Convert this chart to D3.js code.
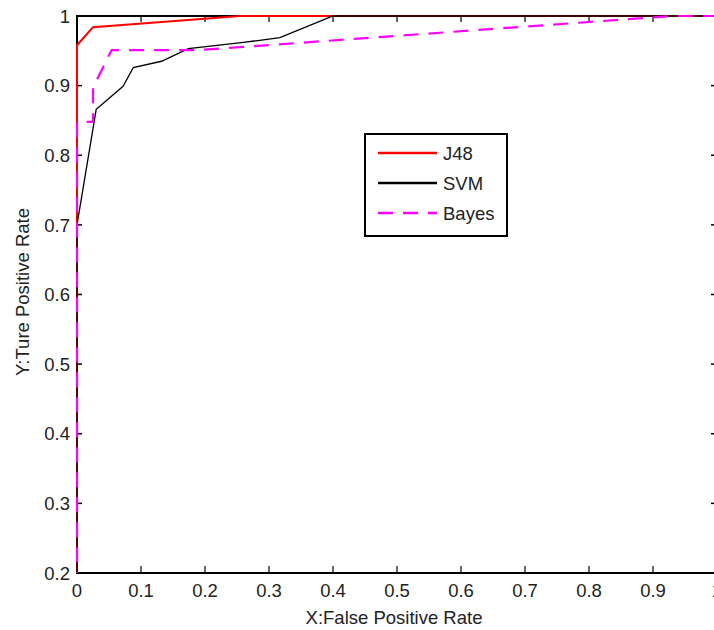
<!DOCTYPE html>
<html>
<head>
<meta charset="utf-8">
<script src="https://cdn.jsdelivr.net/npm/d3@7"></script>
<style>
  body { margin: 0; background: #fff; }
  text { font-family: "Liberation Sans", Arial, sans-serif; fill: #222; }
</style>
</head>
<body>
<div id="chart"></div>
<script>
// ROC curves
const j48 = [[0, 0], [0, 0.958], [0.025, 0.984], [0.255, 1.0], [1, 1]];
const svm = [[0, 0], [0, 0.7], [0.03, 0.866], [0.072, 0.899], [0.088, 0.926],
  [0.132, 0.935], [0.174, 0.953], [0.26, 0.962], [0.317, 0.969], [0.40, 1.0], [1, 1]];
const bayes = [[0, 0], [0, 0.848], [0.025, 0.848], [0.025, 0.897], [0.054, 0.951],
  [0.19, 0.951], [0.93, 1.0], [1, 1]];

const seriesNames = ["J48", "SVM", "Bayes"];
const xTicks = [0, 0.1, 0.2, 0.3, 0.4, 0.5, 0.6, 0.7, 0.8, 0.9, 1];
const yTicks = [0.2, 0.3, 0.4, 0.5, 0.6, 0.7, 0.8, 0.9, 1];

const width = 714, height = 630;
const margin = { left: 77, right: 717, top: 16, bottom: 573 };

const svg = d3.select("#chart").append("svg")
  .attr("width", width)
  .attr("height", height);

const x = d3.scaleLinear().domain([0, 1]).range([margin.left, margin.right]);
const y = d3.scaleLinear().domain([0.2, 1]).range([margin.bottom, margin.top]);

const fmt = d => (d === 0 || d === 1) ? String(d) : d.toFixed(1);

// axes box
const axisG = svg.append("g");
axisG.append("rect")
  .attr("x", margin.left).attr("y", margin.top)
  .attr("width", margin.right - margin.left).attr("height", margin.bottom - margin.top)
  .attr("fill", "none").attr("stroke", "#000").attr("stroke-width", 2);

// ticks (inward, on all four sides)
xTicks.forEach(t => {
  axisG.append("line").attr("x1", x(t)).attr("x2", x(t))
    .attr("y1", margin.bottom).attr("y2", margin.bottom - 7).attr("stroke", "#000").attr("stroke-width", 1.2);
  axisG.append("line").attr("x1", x(t)).attr("x2", x(t))
    .attr("y1", margin.top).attr("y2", margin.top + 6).attr("stroke", "#000").attr("stroke-width", 1.2);
  axisG.append("text")
    .attr("x", x(t)).attr("y", 597)
    .attr("text-anchor", "middle")
    .attr("font-size", "18.5px")
    .text(fmt(t));
});
yTicks.forEach(t => {
  axisG.append("line").attr("x1", margin.left).attr("x2", margin.left + 5)
    .attr("y1", y(t)).attr("y2", y(t)).attr("stroke", "#000").attr("stroke-width", 1.5);
  axisG.append("line").attr("x1", margin.right).attr("x2", margin.right - 6)
    .attr("y1", y(t)).attr("y2", y(t)).attr("stroke", "#000").attr("stroke-width", 1.5);
  axisG.append("text")
    .attr("x", 70).attr("y", y(t))
    .attr("dy", "0.36em")
    .attr("text-anchor", "end")
    .attr("font-size", "18.5px")
    .text(fmt(t));
});

// axis titles
svg.append("text")
  .attr("x", 394).attr("y", 624)
  .attr("text-anchor", "middle")
  .attr("font-size", "18.5px")
  .text("X:False Positive Rate");
svg.append("text")
  .attr("transform", "translate(29,292) rotate(-90)")
  .attr("text-anchor", "middle")
  .attr("font-size", "18.5px")
  .text("Y:Ture Positive Rate");

// curves
svg.append("clipPath").attr("id", "plot-clip")
  .append("rect")
  .attr("x", margin.left - 4).attr("y", margin.top - 4)
  .attr("width", margin.right - margin.left + 8).attr("height", margin.bottom - margin.top + 4);

const line = d3.line().x(d => x(d[0])).y(d => y(d[1]));
const styles = [
  { data: j48, color: "#ff0000", width: 2, dash: null },
  { data: svm, color: "#000000", width: 1.3, dash: null },
  { data: bayes, color: "#ff00ff", width: 2.2, dash: "15,10" }
];

const curves = svg.append("g").attr("clip-path", "url(#plot-clip)");
styles.forEach(s => {
  curves.append("path")
    .datum(s.data)
    .attr("d", line)
    .attr("fill", "none")
    .attr("stroke", s.color)
    .attr("stroke-width", s.width)
    .attr("stroke-dasharray", s.dash);
});

// legend
const legend = svg.append("g");
legend.append("rect")
  .attr("x", 365).attr("y", 134)
  .attr("width", 142).attr("height", 102)
  .attr("fill", "#fff").attr("stroke", "#000").attr("stroke-width", 2);

seriesNames.forEach((name, i) => {
  const ly = 153 + i * 30;
  legend.append("line")
    .attr("x1", 378).attr("x2", 437)
    .attr("y1", ly).attr("y2", ly)
    .attr("stroke", styles[i].color)
    .attr("stroke-width", 2.5)
    .attr("stroke-dasharray", styles[i].dash);
  legend.append("text")
    .attr("x", 443).attr("y", ly)
    .attr("dy", "0.36em")
    .attr("font-size", "18.5px")
    .text(name);
});
</script>
</body>
</html>
